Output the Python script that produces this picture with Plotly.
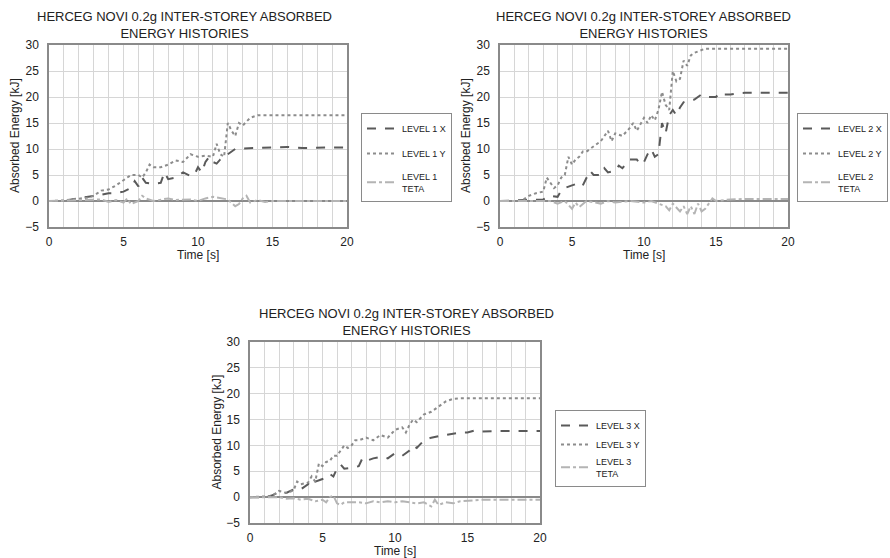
import plotly.graph_objects as go

# ---------------- data ----------------
t1x = [0,1,1.5,2,2.5,3,3.5,4,4.5,5,5.5,5.75,6,6.25,6.5,7,7.5,7.75,8,8.5,9,9.5,9.75,10,10.25,10.5,10.75,11,11.25,11.5,12,12.5,13,14,15,16,17,18,19,20]
e1x = [0,0,0.3,0.5,0.7,1.0,1.2,1.5,1.5,1.8,2.5,3.8,2.8,4.5,3.5,3.3,3.5,5.5,4.2,4.5,5.5,4.8,5.0,6.5,5.5,7.5,8.5,7.5,7.2,8.0,9.0,10.0,10.1,10.2,10.3,10.4,10.2,10.3,10.3,10.3]
t1y = [0,1,1.5,2,2.5,3,3.5,4,4.5,5,5.5,6,6.25,6.5,6.75,7,7.5,8,8.5,9,9.5,10,10.5,11,11.25,11.5,11.75,12,12.25,12.5,12.75,13,13.25,13.5,14,15,16,17,18,20]
e1y = [0,0.1,0.3,0.5,0.6,1.0,2.0,2.2,3.0,4.0,5.0,5.0,4.5,5.5,7.0,6.5,6.5,7.0,7.8,7.5,9.0,8.5,8.7,8.5,11.0,9.0,8.5,15.0,13.5,12.5,15.0,14.5,15.2,16.0,16.5,16.5,16.5,16.5,16.5,16.5]
t1t = [0,3,3.5,4,4.5,5,5.25,5.5,5.75,6,6.25,6.5,7,7.5,8,8.5,9,9.5,10,10.5,11,11.5,12,12.5,12.75,13,13.25,13.5,14,14.5,15,20]
e1t = [0,0.2,0.3,-0.2,0.2,-0.3,0.5,-0.6,-0.3,0,1.0,0.5,0,0.3,0.5,0.2,0.2,0.3,0,0.5,0.8,0.5,0.3,-1.0,-0.6,0.5,1.0,-0.3,0.2,-0.2,0,0]

t2x = [0,2,2.5,3,3.5,4,4.25,4.5,5,5.5,5.75,6,6.25,6.5,7,7.25,7.5,8,8.25,8.5,9,9.5,9.75,10,10.25,10.5,10.75,11,11.25,11.5,11.75,12,12.25,12.5,12.75,13,13.5,14,14.5,15,15.25,15.5,16,16.5,17,18,19,20]
e2x = [0,0.2,0.2,0.3,1.0,0.8,2.0,2.5,3.0,3.5,3.0,4.5,5.8,5.0,5.0,6.3,5.5,5.8,6.8,6.3,8.0,8.0,7.0,7.5,9.0,10.0,8.5,9.0,15.0,13.0,16.5,17.5,16.5,18.0,19.0,19.3,19.5,20.5,20.0,20.0,20.8,20.5,20.5,20.7,20.8,20.8,20.8,20.8]
t2y = [0,1.5,1.75,2,2.5,3,3.25,3.5,3.75,4,4.25,4.5,4.75,5,5.25,5.5,5.75,6,6.25,6.5,7,7.25,7.5,7.75,8,8.5,9,9.25,9.5,10,10.25,10.5,10.75,11,11.25,11.5,11.75,12,12.25,12.5,12.75,13,13.25,13.5,14,14.25,15,20]
e2y = [0,0,0.5,1.0,1.5,1.8,4.5,3.5,2.5,3.0,4.5,5.0,8.5,7.0,8.0,8.5,9.5,9.5,10.0,10.5,11.5,12.5,13.5,11.5,13.0,12.5,14.0,15.0,13.5,16.0,15.0,16.5,15.5,17.5,21.0,18.5,17.5,25.0,23.0,23.5,27.0,26.0,28.0,28.5,29.0,29.3,29.3,29.3]
t2t = [0,3.5,4,4.5,5,5.25,5.5,6,7,7.5,8,9,10,10.5,11,11.5,11.75,12,12.5,12.75,13,13.25,13.5,13.75,14,14.25,14.5,14.75,15,16,17,20]
e2t = [0,0,-0.5,0,-1.5,-0.3,-1.2,0,-0.5,0,-0.3,0,-0.3,0,-0.5,-1.0,-1.8,-0.5,-2.0,-1.0,-2.5,-1.0,-2.5,-0.5,-2.0,-1.5,-0.5,0.5,0,0.3,0.4,0.4]

t3x = [0,1,1.5,2,2.5,3,3.5,4,4.25,4.5,5,5.5,5.75,6,6.25,6.5,7,7.5,7.75,8,8.5,9,9.5,10,10.5,11,11.25,11.5,12,12.5,13,13.5,14,14.5,15,15.5,16,17,20]
e3x = [0,0,0.3,1.0,0.8,1.5,1.5,2.5,3.5,3.0,3.5,4.5,4.0,5.5,6.3,5.5,5.7,6.0,7.5,7.0,7.5,7.8,7.5,8.5,8.0,9.0,10.0,9.5,11.0,11.5,11.8,12.0,12.3,12.5,12.5,12.9,12.7,12.8,12.8]
t3y = [0,1.5,2,2.5,3,3.25,3.5,4,4.25,4.5,4.75,5,5.25,5.5,5.75,6,6.25,6.5,6.75,7,7.25,7.5,8,8.5,9,9.5,10,10.5,10.75,11,11.25,11.5,12,12.5,13,13.5,14,14.5,20]
e3y = [0,0.2,1.2,0.8,1.3,3.0,2.5,2.8,4.0,3.0,6.5,6.0,6.8,7.0,8.0,8.0,9.0,10.0,9.5,10.0,11.0,11.0,11.5,11.0,12.0,11.5,13.0,13.5,12.5,14.0,15.0,14.5,16.0,16.5,17.5,18.5,19.0,19.1,19.1]
t3t = [0,2,2.5,3,3.5,4,4.5,5,5.25,5.5,5.75,6,6.25,6.5,7,7.5,8,8.5,9,9.5,10,10.5,11,11.5,12,12.5,12.75,13,13.5,14,14.5,15,16,20]
e3t = [0,0,-0.3,-0.2,-0.5,-0.3,-0.8,-0.5,-1.0,0.0,0.3,-1.2,-1.5,-1.0,-1.0,-1.0,-1.2,-0.8,-1.0,-0.8,-1.0,-0.8,-1.0,-1.2,-1.0,-1.8,-0.5,-1.5,-1.0,-1.2,-0.8,-0.7,-0.5,-0.5]

x_ticks = [0, 5, 10, 15, 20]
y_ticks = [-5, 0, 5, 10, 15, 20, 25, 30]
y_tick_text = ["\u22125", "0", "5", "10", "15", "20", "25", "30"]
title_text = "HERCEG NOVI 0.2g INTER-STOREY ABSORBED<br>ENERGY HISTORIES"

# ---------------- figure ----------------
W, H = 890, 558
FONT = "Liberation Sans, Arial, sans-serif"

# pixel boxes of the three plot areas: (left, right, top, bottom)
boxes = [(49, 347, 45, 227), (500, 788, 45, 227), (250, 540, 342, 523)]
legend_pos = [(361, 113), (797, 113), (555, 410)]
legend_gap = [6, 6, 0]
title_cx = [184, 643, 406]

series = [
    [(t1x, e1x, "LEVEL 1 X"), (t1y, e1y, "LEVEL 1 Y"), (t1t, e1t, "LEVEL 1<br>TETA")],
    [(t2x, e2x, "LEVEL 2 X"), (t2y, e2y, "LEVEL 2 Y"), (t2t, e2t, "LEVEL 2<br>TETA")],
    [(t3x, e3x, "LEVEL 3 X"), (t3y, e3y, "LEVEL 3 Y"), (t3t, e3t, "LEVEL 3<br>TETA")],
]
styles = [
    dict(color="#5a5a5a", dash="dash", width=2),
    dict(color="#8c8c8c", dash="dot", width=2),
    dict(color="#b4b4b4", dash="dashdot", width=2),
]

fig = go.Figure()
layout = dict(
    width=W, height=H, margin=dict(l=0, r=0, t=0, b=0, autoexpand=False),
    paper_bgcolor="white", plot_bgcolor="white",
    font=dict(family=FONT, color="#222", size=11),
    showlegend=True,
)
annotations = []

for i, (box, sers) in enumerate(zip(boxes, series)):
    l, r, tp, bt = box
    xa = "xaxis" if i == 0 else f"xaxis{i+1}"
    ya = "yaxis" if i == 0 else f"yaxis{i+1}"
    xref = "x" if i == 0 else f"x{i+1}"
    yref = "y" if i == 0 else f"y{i+1}"
    lg = "legend" if i == 0 else f"legend{i+1}"
    for j, (tt, ee, name) in enumerate(sers):
        fig.add_trace(go.Scatter(
            x=tt, y=ee, name=name, mode="lines", line=styles[j],
            xaxis=xref, yaxis=yref, legend=lg, legendgroup=f"g{i}{j}",
        ))
    layout[xa] = dict(
        domain=[l / W, r / W], anchor=yref, range=[0, 20],
        tickvals=x_ticks, ticks="", showgrid=True, gridcolor="#d6d6d6",
        minor=dict(dtick=1, showgrid=True, gridcolor="#d6d6d6", ticks=""),
        showline=True, linecolor="#8a8a8a", linewidth=1.5, mirror=True,
        zeroline=False, tickfont=dict(size=12, color="#222"), ticklabelstandoff=3,
    )
    layout[ya] = dict(
        domain=[1 - bt / H, 1 - tp / H], anchor=xref, range=[-5, 30],
        tickvals=y_ticks, ticktext=y_tick_text, ticks="", showgrid=True, gridcolor="#d6d6d6",
        showline=True, linecolor="#8a8a8a", linewidth=1.5, mirror=True,
        zeroline=True, zerolinecolor="#8a8a8a", zerolinewidth=1.5,
        tickfont=dict(size=12, color="#222"), ticklabelstandoff=6,
    )
    lx, ly = legend_pos[i]
    layout[lg] = dict(
        x=lx / W, y=1 - ly / H, xanchor="left", yanchor="top",
        bgcolor="white", bordercolor="#8a8a8a", borderwidth=1,
        font=dict(size=9, family=FONT, color="#222"),
        tracegroupgap=legend_gap[i], itemwidth=30,
    )
    # title
    annotations.append(dict(
        text=title_text, x=title_cx[i] / W, y=1 - (tp - 38) / H,
        xref="paper", yref="paper", xanchor="center", yanchor="top",
        showarrow=False, font=dict(size=13, family=FONT, color="#222"),
    ))
    # x-axis title
    annotations.append(dict(
        text="Time [s]", x=(l + r) / 2 / W, y=1 - (bt + 28) / H,
        xref="paper", yref="paper", xanchor="center", yanchor="middle",
        showarrow=False, font=dict(size=12, family=FONT, color="#222"),
    ))
    # y-axis title
    annotations.append(dict(
        text="Absorbed Energy [kJ]", x=(l - 34) / W, y=1 - (tp + bt) / 2 / H,
        xref="paper", yref="paper", xanchor="center", yanchor="middle",
        textangle=-90, showarrow=False, font=dict(size=12, family=FONT, color="#222"),
    ))

layout["annotations"] = annotations
fig.update_layout(**layout)
fig.write_html(
    "out.html",
    config={"displayModeBar": False},
    post_script="document.body.style.margin='0';document.body.style.overflow='hidden';",
)
